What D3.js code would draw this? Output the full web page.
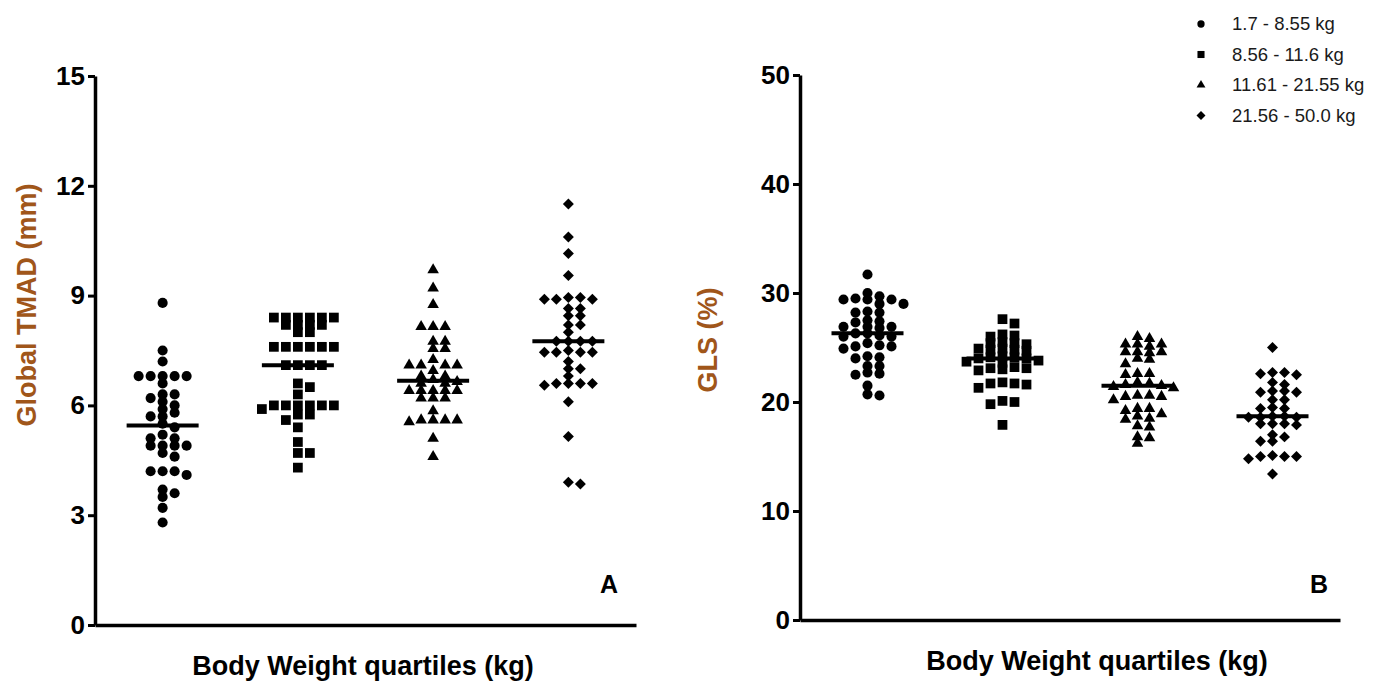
<!DOCTYPE html>
<html>
<head>
<meta charset="utf-8">
<script src="https://cdn.jsdelivr.net/npm/d3@7"></script>
<style>
  body { margin: 0; background: #fff; }
  svg { display: block; }
  text { font-family: "Liberation Sans", Arial, sans-serif; }
</style>
</head>
<body>
<svg id="chart" width="1373" height="681"></svg>
<script>
// body weight quartiles
const groups = ["1.7 - 8.55 kg", "8.56 - 11.6 kg", "11.61 - 21.55 kg", "21.56 - 50.0 kg"];

// panel A: global TMAD (mm)
const tmadQ1 = [8.8, 7.5, 7.2, 6.8, 6.8, 6.8, 6.8, 6.8, 6.6, 6.3, 6.3, 6.2, 6.1, 6.0, 5.9, 5.8, 5.7, 5.7, 5.5, 5.4,
  5.2, 5.1, 5.1, 4.9, 4.9, 4.9, 4.9, 4.7, 4.6, 4.2, 4.2, 4.2, 4.1, 3.7, 3.6, 3.5, 3.2, 2.8];
const tmadQ2 = [8.4, 8.4, 8.4, 8.4, 8.4, 8.4, 8.2, 8.2, 8.2, 8.2, 8.0, 8.0, 7.6, 7.6, 7.6, 7.6, 7.6, 7.6, 7.1, 7.1,
  7.1, 7.1, 6.6, 6.5, 6.3, 6.0, 6.0, 6.0, 6.0, 6.0, 6.0, 5.9, 5.75, 5.75, 5.6, 5.4, 5.0, 4.7, 4.7, 4.3];
const tmadQ3 = [9.7, 9.2, 8.75, 8.15, 8.15, 8.15, 7.75, 7.75, 7.55, 7.55, 7.25, 7.1, 7.1, 7.1, 7.1, 6.95, 6.8, 6.8,
  6.7, 6.65, 6.6, 6.6, 6.4, 6.4, 6.4, 6.4, 6.4, 6.2, 6.2, 6.2, 5.85, 5.6, 5.6, 5.55, 5.6, 5.6, 5.1, 4.6];
const tmadQ4 = [11.5, 10.6, 10.15, 9.55, 8.95, 8.9, 8.9, 8.9, 8.95, 8.65, 8.65, 8.45, 8.45, 8.2, 8.2, 8.0, 7.75, 7.75,
  7.75, 7.75, 7.45, 7.45, 7.45, 7.45, 7.5, 7.2, 7.0, 7.0, 6.8, 6.6, 6.6, 6.55, 6.6, 6.6, 6.1, 5.15, 3.85, 3.9];

// panel B: GLS (%)
const glsQ1 = [31.7, 30.0, 29.7, 29.4, 29.5, 29.4, 29.4, 29.0, 29.0, 28.2, 28.2, 28.3, 27.4, 27.5, 27.3, 26.9, 26.8,
  26.9, 26.9, 26.0, 26.1, 26.3, 26.3, 26.0, 25.1, 25.2, 25.1, 25.4, 24.9, 24.1, 24.0, 24.2, 23.3, 23.3, 22.6, 22.5,
  22.7, 21.5, 20.6, 20.7];
const glsQ2 = [27.6, 27.2, 26.1, 26.2, 26.0, 25.4, 25.5, 25.3, 25.4, 24.8, 24.9, 24.7, 24.8, 24.9, 24.1, 24.2, 24.0,
  24.1, 24.0, 23.7, 23.6, 23.8, 23.1, 23.0, 23.2, 23.1, 22.9, 21.7, 21.6, 21.8, 21.7, 21.3, 20.0, 19.8, 20.1, 17.9];
const glsQ3 = [26.0, 25.8, 25.3, 25.3, 25.3, 25.1, 24.6, 24.5, 24.6, 24.6, 23.9, 24.0, 23.5, 22.6, 22.5, 22.6, 21.7,
  21.6, 21.5, 21.8, 21.4, 21.3, 20.6, 20.5, 20.5, 20.6, 20.2, 19.4, 19.2, 19.4, 18.9, 18.5, 18.7, 18.4, 17.8, 17.7,
  16.8, 16.7, 16.2];
const glsQ4 = [25.0, 22.7, 22.5, 22.7, 22.6, 21.6, 21.8, 20.9, 21.0, 20.9, 21.0, 20.2, 20.2, 19.4, 19.5, 19.4, 18.6,
  18.6, 18.7, 18.6, 18.7, 18.0, 17.9, 18.0, 18.0, 16.8, 17.0, 16.4, 16.4, 15.0, 14.8, 15.0, 15.0, 15.1, 13.4];

const tmadTicks = [0, 3, 6, 9, 12, 15];
const glsTicks = [0, 10, 20, 30, 40, 50];

const svg = d3.select("#chart");
const titleColor = "#a0561a";

// marker per quartile: circle, square, triangle, diamond (rotated square)
const shapes = [d3.symbolCircle, d3.symbolSquare, d3.symbolTriangle, d3.symbolSquare];
const sizes = [80, 95, 58, 60];
const turns = [0, 0, 0, 45];

// place points in columns so they don't overlap too much (column scatter)
function dodge(values, y, step, minDy) {
    const placed = [];
    const sorted = values.slice().sort((a, b) => b - a);
    sorted.forEach(v => {
        const py = y(v);
        for (let k = 0; k < 20; k++) {
            const col = k === 0 ? 0 : (k % 2 ? (k + 1) / 2 : -k / 2);
            const hit = placed.some(p => p.col === col && Math.abs(p.py - py) < minDy);
            if (!hit) { placed.push({ v: v, py: py, col: col, dx: col * step }); break; }
        }
    });
    return placed;
}

function drawPanel(cfg) {
    const g = svg.append("g");
    const x = d3.scaleBand().domain(groups).range([cfg.x0, cfg.x1]);
    const y = d3.scaleLinear().domain(cfg.domain).range([cfg.yBottom, cfg.yTop]);

    // y axis
    const yAxis = g.append("g")
        .attr("transform", `translate(${cfg.x0},0)`)
        .call(d3.axisLeft(y).tickValues(cfg.ticks).tickSizeInner(7).tickSizeOuter(0).tickPadding(3));
    yAxis.select(".domain").attr("stroke", "#000").attr("stroke-width", 3.5);
    yAxis.selectAll(".tick line").attr("stroke", "#000").attr("stroke-width", 3);
    yAxis.selectAll(".tick text")
        .attr("font-family", "Liberation Sans, Arial, sans-serif")
        .attr("font-size", 26).attr("font-weight", "bold").attr("fill", "#000");

    // x axis (no ticks)
    const xAxis = g.append("g")
        .attr("transform", `translate(0,${cfg.yBottom})`)
        .call(d3.axisBottom(x).tickValues([]).tickSizeOuter(0));
    xAxis.select(".domain").attr("stroke", "#000").attr("stroke-width", 3.5);

    // points
    cfg.series.forEach((vals, i) => {
        const cx = x(groups[i]) + x.bandwidth() / 2;
        const pts = dodge(vals, y, cfg.step, cfg.minDy);
        g.append("g").selectAll("path")
            .data(pts)
            .join("path")
            .attr("d", d3.symbol().type(shapes[i]).size(sizes[i]))
            .attr("transform", d => `translate(${cx + d.dx},${d.py}) rotate(${turns[i]})`)
            .attr("fill", "#000");

        // median line
        const m = d3.median(vals);
        g.append("line")
            .attr("x1", cx - 36).attr("x2", cx + 36)
            .attr("y1", y(m)).attr("y2", y(m))
            .attr("stroke", "#000").attr("stroke-width", 4);
    });

    // titles
    g.append("text")
        .attr("transform", `translate(${cfg.yTitleX},${cfg.yTitleY}) rotate(-90)`)
        .attr("text-anchor", "middle")
        .attr("font-size", 27).attr("font-weight", "bold")
        .attr("fill", titleColor)
        .text(cfg.yTitle);

    g.append("text")
        .attr("x", cfg.xTitleX).attr("y", cfg.xTitleY)
        .attr("text-anchor", "middle")
        .attr("font-size", 27).attr("font-weight", "bold")
        .attr("fill", "#000")
        .text("Body Weight quartiles (kg)");

    g.append("text")
        .attr("x", cfg.letterX).attr("y", 593)
        .attr("text-anchor", "middle")
        .attr("font-size", 25).attr("font-weight", "bold")
        .text(cfg.letter);
}

drawPanel({
    x0: 95, x1: 636, yBottom: 625, yTop: 76, domain: [0, 15], ticks: tmadTicks,
    series: [tmadQ1, tmadQ2, tmadQ3, tmadQ4], step: 12, minDy: 6.5,
    yTitle: "Global TMAD (mm)", yTitleX: 36, yTitleY: 305,
    xTitleX: 363, xTitleY: 675, letter: "A", letterX: 609
});

drawPanel({
    x0: 800, x1: 1340, yBottom: 620, yTop: 75, domain: [0, 50], ticks: glsTicks,
    series: [glsQ1, glsQ2, glsQ3, glsQ4], step: 12, minDy: 6.5,
    yTitle: "GLS (%)", yTitleX: 717, yTitleY: 340,
    xTitleX: 1097, xTitleY: 670, letter: "B", letterX: 1319
});

// legend
const legendSizes = [42, 50, 34, 40];
const legend = svg.append("g");
groups.forEach((name, i) => {
    const ly = 24 + i * 30.5;
    legend.append("path")
        .attr("d", d3.symbol().type(shapes[i]).size(legendSizes[i]))
        .attr("transform", `translate(1201,${ly}) rotate(${turns[i]})`)
        .attr("fill", "#000");
    legend.append("text")
        .attr("x", 1232).attr("y", ly + 6)
        .attr("font-size", 18.5)
        .attr("fill", "#1a1a1a")
        .text(name);
});
</script>
</body>
</html>
